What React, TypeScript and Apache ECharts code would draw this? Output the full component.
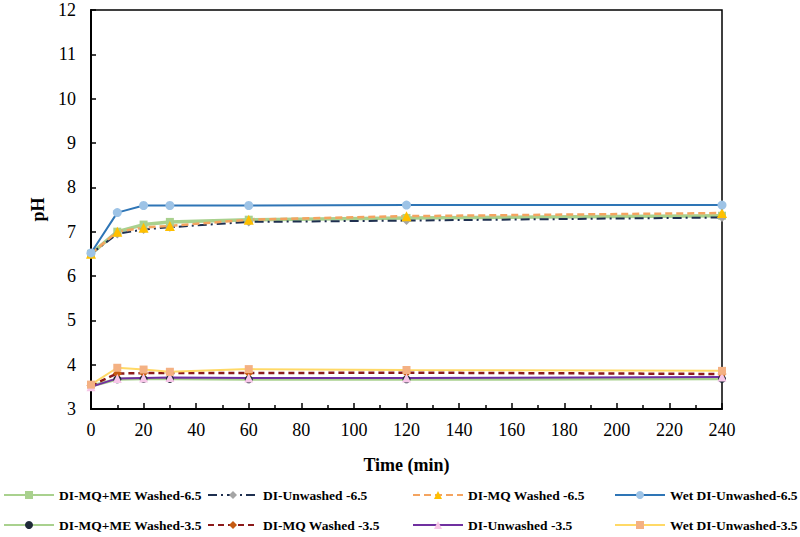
import React, { useEffect, useRef } from "react";
import * as echarts from "echarts";

// Sampling times (min)
const times = [0, 10, 20, 30, 60, 120, 240];

// pH readings per treatment
const diMqMeWashed65 = [6.5, 7.0, 7.16, 7.22, 7.27, 7.31, 7.36];
const diUnwashed65 = [6.5, 6.95, 7.05, 7.1, 7.22, 7.25, 7.32];
const diMqWashed65 = [6.5, 7.0, 7.09, 7.13, 7.27, 7.35, 7.42];
const wetDiUnwashed65 = [6.52, 7.43, 7.59, 7.59, 7.59, 7.6, 7.6];
const diMqMeWashed35 = [3.52, 3.67, 3.68, 3.68, 3.67, 3.67, 3.68];
const diMqWashed35 = [3.53, 3.8, 3.81, 3.81, 3.81, 3.82, 3.79];
const diUnwashed35 = [3.5, 3.69, 3.7, 3.71, 3.7, 3.7, 3.72];
const wetDiUnwashed35 = [3.55, 3.93, 3.89, 3.84, 3.9, 3.88, 3.86];

const seriesNames = [
  "DI-MQ+ME Washed-6.5",
  "DI-Unwashed -6.5",
  "DI-MQ Washed -6.5",
  "Wet DI-Unwashed-6.5",
  "DI-MQ+ME Washed-3.5",
  "DI-MQ Washed -3.5",
  "DI-Unwashed -3.5",
  "Wet DI-Unwashed-3.5",
];

const FONT = "Liberation Serif";

const pairs = (vals: number[]) => times.map((t, i) => [t, vals[i]]);

export default function App() {
  const ref = useRef<HTMLDivElement>(null);

  useEffect(() => {
    if (!ref.current) return;
    const chart = echarts.init(ref.current, undefined, { renderer: "svg" });

    const mk = (
      name: string,
      vals: number[],
      lineColor: string,
      lineWidth: number,
      lineType: any,
      symbol: string,
      symbolSize: number,
      symbolColor: string
    ) => ({
      name,
      type: "line",
      data: pairs(vals),
      symbol,
      symbolSize,
      showAllSymbol: true,
      lineStyle: { color: lineColor, width: lineWidth, type: lineType },
      itemStyle: { color: symbolColor, borderWidth: 0 },
      emphasis: { disabled: true },
    });

    const series = [
      mk(seriesNames[0], diMqMeWashed65, "#a9d18e", 3.5, "solid", "rect", 8, "#a9d18e"),
      mk(seriesNames[1], diUnwashed65, "#1f3050", 2, [9, 4, 2, 4], "diamond", 9, "#a5a5a5"),
      mk(seriesNames[2], diMqWashed65, "#f4a460", 2.5, [7, 4], "triangle", 10, "#ffc000"),
      mk(seriesNames[3], wetDiUnwashed65, "#2e75b6", 2, "solid", "circle", 9, "#9dc3e6"),
      mk(seriesNames[4], diMqMeWashed35, "#a9d18e", 3, "solid", "circle", 8, "#1f2a38"),
      mk(seriesNames[5], diMqWashed35, "#8b1a1a", 2.5, [6, 4], "diamond", 9, "#c55a11"),
      mk(seriesNames[6], diUnwashed35, "#7030a0", 2, "solid", "triangle", 9, "#f7c6e8"),
      mk(seriesNames[7], wetDiUnwashed35, "#ffd966", 2, "solid", "rect", 8, "#f4b183"),
    ];

    // legend placement: two rows of four entries
    const legendLefts = [3, 207, 412, 614];
    const legendTops = [488, 518];
    const legendOrder = [
      [0, 1, 2, 3],
      [4, 5, 6, 7],
    ];
    const legends: any[] = [];
    legendOrder.forEach((row, r) =>
      row.forEach((idx, c) => {
        legends.push({
          data: [seriesNames[idx]],
          left: legendLefts[c],
          top: legendTops[r],
          padding: 0,
          itemWidth: 50,
          itemHeight: 10,
          itemGap: 0,
          selectedMode: false,
          textStyle: {
            fontFamily: FONT,
            fontWeight: "bold",
            fontSize: 13.5,
            color: "#000",
          },
        });
      })
    );

    chart.setOption({
      animation: false,
      backgroundColor: "#fff",
      grid: {
        left: 91,
        right: 78,
        top: 10,
        bottom: 128,
        show: true,
        borderColor: "#000",
        borderWidth: 1.5,
        containLabel: false,
      },
      legend: legends,
      xAxis: {
        type: "value",
        min: 0,
        max: 240,
        interval: 20,
        name: "Time (min)",
        nameLocation: "middle",
        nameGap: 47,
        nameTextStyle: {
          fontFamily: FONT,
          fontWeight: "bold",
          fontSize: 18,
          color: "#000",
        },
        axisLine: { lineStyle: { color: "#000", width: 2 } },
        axisTick: { inside: true, length: 6, lineStyle: { color: "#000", width: 1.5 } },
        minorTick: { show: true, splitNumber: 2, length: 4, lineStyle: { color: "#000", width: 1.5 } },
        axisLabel: { fontFamily: FONT, fontSize: 18, color: "#000", margin: 12 },
        splitLine: { show: false },
      },
      yAxis: {
        type: "value",
        min: 3,
        max: 12,
        interval: 1,
        name: "pH",
        nameLocation: "middle",
        nameGap: 43,
        nameTextStyle: {
          fontFamily: FONT,
          fontWeight: "bold",
          fontSize: 18,
          color: "#000",
        },
        axisLine: { show: true, lineStyle: { color: "#000", width: 2 } },
        axisTick: { show: true, inside: true, length: 5, lineStyle: { color: "#000", width: 1.5 } },
        axisLabel: { fontFamily: FONT, fontSize: 18, color: "#000", margin: 15 },
        splitLine: { show: false },
      },
      series,
    });

    return () => chart.dispose();
  }, []);

  return <div ref={ref} style={{ width: 800, height: 537, position: "absolute", left: 0, top: 0 }} />;
}
